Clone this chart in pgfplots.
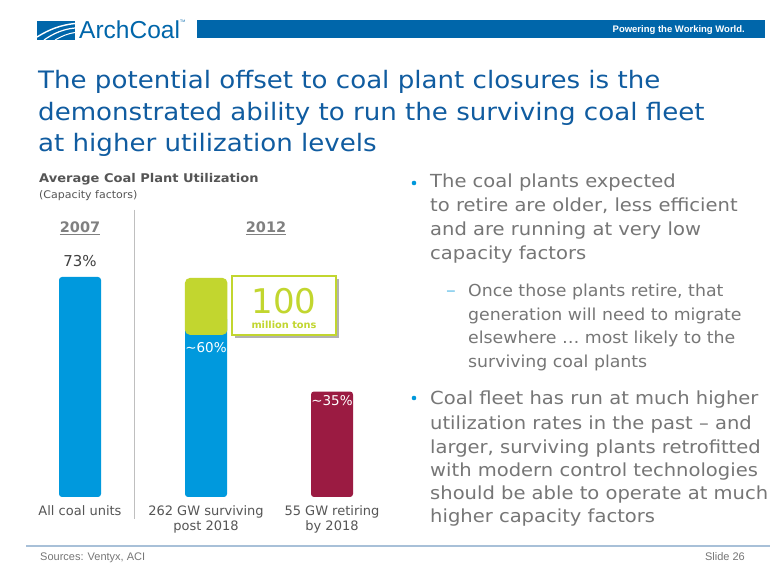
\documentclass[border=0pt]{standalone}
\usepackage{pgfplots}
\pgfplotsset{compat=1.18}
\usepackage{fontspec}
\setmainfont{DejaVu Sans}
\newfontfamily\lib{Liberation Sans}
\newfontfamily\tfont[FakeStretch=1.087]{DejaVu Sans}
\newfontfamily\bfont[FakeStretch=1.085]{DejaVu Sans}
\newfontfamily\sfont[FakeStretch=1.05]{DejaVu Sans}
\definecolor{titleblue}{RGB}{16,92,160}
\definecolor{hdrblue}{RGB}{0,102,170}
\definecolor{barblue}{RGB}{0,153,221}
\definecolor{barred}{RGB}{155,27,66}
\definecolor{limeg}{RGB}{194,214,47}
\definecolor{txtgray}{RGB}{118,118,118}
\definecolor{dkgray}{RGB}{85,85,85}
\definecolor{dotblue}{RGB}{0,152,219}
\definecolor{rulecol}{RGB}{168,192,216}
\newcommand\fs[2]{\fontsize{#1}{#2}\selectfont}
\begin{document}
\begin{tikzpicture}[x=1pt,y=1pt]
\path[use as bounding box, fill=white] (0,0) rectangle (780,585);
% ---------- chart ----------
\begin{axis}[name=ax, at={(17pt,88pt)}, anchor=south west, scale only axis,
  width=378pt, height=241.1pt, xmin=-0.5, xmax=2.5, ymin=0, ymax=80,
  axis line style={draw=none}, ytick=\empty, xtick={0,1,2},
  xticklabels={{All coal units},{262 GW surviving\\post 2018},{55 GW retiring\\by 2018}},
  major tick length=0pt,
  xticklabel style={align=center, font=\fs{13}{15.5}, text=dkgray, inner sep=0pt, yshift=-8pt},
  clip=false]
\addplot[ybar, bar width=42pt, bar shift=0pt, fill=barblue, draw=none, rounded corners=3pt] coordinates {(0,73) (1,60)};
\addplot[ybar, bar width=42pt, bar shift=0pt, fill=barred, draw=none, rounded corners=3pt] coordinates {(2,35)};
\addplot[fill=limeg, draw=none, rounded corners=5pt] coordinates {(0.833,53.8) (1.17,53.8) (1.17,72.7) (0.833,72.7)} -- cycle;
\node[anchor=base, inner sep=0, text=black!75, font=\fs{15}{17}] at (axis cs:0,76.6) {73\%};
\node[anchor=base, inner sep=0, text=white, font=\fs{13.5}{16}] at (axis cs:1,47.8) {\textasciitilde60\%};
\node[anchor=base, inner sep=0, text=white, font=\fs{13.5}{16}] at (axis cs:2,30.3) {\textasciitilde35\%};
\end{axis}
% ---------- header ----------
\fill[hdrblue] (197,547) rectangle (765,565);
\node[anchor=base east, text=white, font=\lib\bfseries\fs{9.5}{12}, inner sep=0] at (745,552) {Powering the Working World.};
\fill[hdrblue] (37,545) rectangle (75,564);
\draw[white, line width=1.4pt] (37,548) .. controls (50,556) and (61,560) .. (75,561.5);
\draw[white, line width=1.2pt] (44,545) .. controls (54,552) and (64,556) .. (75,557);
\draw[white, line width=1.0pt] (55,545) .. controls (62,549) and (68,551.5) .. (75,552.5);
\node[anchor=base west, text=hdrblue, font=\lib\fs{24.5}{28}, inner sep=0] at (79,546) {ArchCoal};
\node[anchor=base west, text=hdrblue, font=\lib\fs{3.5}{4}, inner sep=0] at (180,562) {TM};
% ---------- title ----------
\begin{scope}[every node/.style={anchor=base west, inner sep=0, text=titleblue, font=\tfont\fs{24}{28}}]
\node at (38,496) {The potential offset to coal plant closures is the};
\node at (38,464) {demonstrated ability to run the surviving coal fleet};
\node at (38,433) {at higher utilization levels};
\end{scope}
% ---------- chart header ----------
\node[anchor=base west, inner sep=0, text=dkgray, font=\bfont\bfseries\fs{12}{14}] at (39,402) {Average Coal Plant Utilization};
\node[anchor=base west, inner sep=0, text=dkgray, font=\sfont\fs{10.5}{12}] at (39,386) {(Capacity factors)};
\node[anchor=base, inner sep=0, text=gray, font=\bfseries\fs{14.5}{16}] at (80,352) {\underline{2007}};
\node[anchor=base, inner sep=0, text=gray, font=\bfseries\fs{14.5}{16}] at (266,352) {\underline{2012}};
\draw[black!25, line width=0.9pt] (134,375) -- (134,66);
% ---------- 100 million tons ----------
\fill[black!30] (235,247) rectangle (339,306);
\filldraw[fill=white, draw=limeg, line width=1.5pt] (232,250) rectangle (336,309);
\node[anchor=base, inner sep=0, text=limeg, font=\fs{34}{36}] at (284,271) {100};
\node[anchor=base, inner sep=0, text=limeg, font=\bfseries\fs{9.8}{11}] at (284,256) {million tons};
% ---------- bullets ----------
\begin{scope}[every node/.style={anchor=base west, inner sep=0, text=txtgray, font=\bfont\fs{18}{22}}]
\fill[dotblue] (414,402) circle (2.3);
\node at (430,397) {The coal plants expected};
\node at (430,373) {to retire are older, less efficient};
\node at (430,349) {and are running at very low};
\node at (430,325) {capacity factors};
\node[text=dotblue!60] at (446,288) {–};
\node[font=\sfont\fs{16.5}{20}] at (468,288) {Once those plants retire, that};
\node[font=\sfont\fs{16.5}{20}] at (468,264) {generation will need to migrate};
\node[font=\sfont\fs{16.5}{20}] at (468,241) {elsewhere … most likely to the};
\node[font=\sfont\fs{16.5}{20}] at (468,217) {surviving coal plants};
\fill[dotblue] (414,187) circle (2.3);
\node at (430,180) {Coal fleet has run at much higher};
\node at (430,155) {utilization rates in the past – and};
\node at (430,131) {larger, surviving plants retrofitted};
\node at (430,108) {with modern control technologies};
\node at (430,85) {should be able to operate at much};
\node at (430,62) {higher capacity factors};
\end{scope}
% ---------- footer ----------
\draw[rulecol, line width=1.5pt] (26,39) -- (770,39);
\node[anchor=base west, inner sep=0, text=txtgray, font=\lib\fs{11}{12}] at (40,24) {Sources: Ventyx, ACI};
\node[anchor=base east, inner sep=0, text=txtgray, font=\lib\fs{11}{12}] at (745,24) {Slide 26};
\end{tikzpicture}
\end{document}
